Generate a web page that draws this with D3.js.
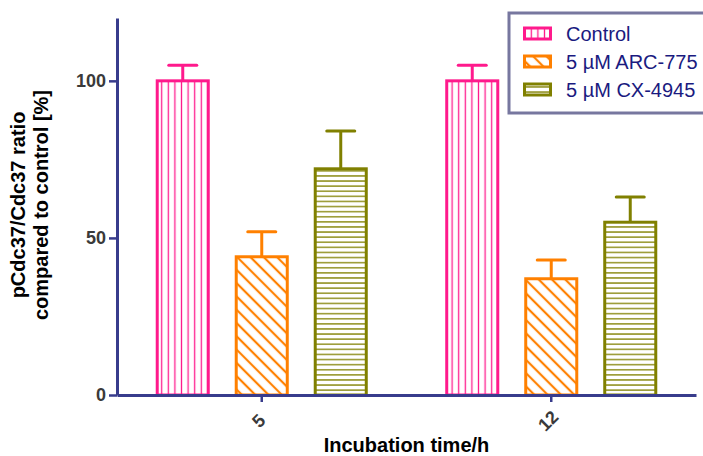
<!DOCTYPE html>
<html>
<head>
<meta charset="utf-8">
<script src="https://cdn.jsdelivr.net/npm/d3@7"></script>
<style>
  body { margin: 0; background: #fff; }
  text { font-family: "Liberation Sans", Arial, sans-serif; }
</style>
</head>
<body>
<script>
// Data
const categories = ["5", "12"];
const series = ["Control", "5 \u00b5M ARC-775", "5 \u00b5M CX-4945"];
const controlValues = [100, 100];
const arcValues = [44, 37];
const cxValues = [72, 55];
const controlErrors = [5, 5];
const arcErrors = [8, 6];
const cxErrors = [12, 8];
const yTicks = [0, 50, 100];

const colors = ["#ff1a8c", "#ff8000", "#808000"];
const patternIds = ["pat-vert", "pat-diag", "pat-horiz"];

const width = 703;
const height = 456;
const margin = {top: 18, right: 7, bottom: 61, left: 117};

const svg = d3.select("body").append("svg")
    .attr("width", width)
    .attr("height", height);

// Hatch patterns for the three series
const defs = svg.append("defs");

const pv = defs.append("pattern")
    .attr("id", "pat-vert")
    .attr("patternUnits", "userSpaceOnUse")
    .attr("width", 6.6).attr("height", 10);
pv.append("line")
    .attr("x1", 3.3).attr("x2", 3.3).attr("y1", 0).attr("y2", 10)
    .attr("stroke", colors[0]).attr("stroke-width", 1.3);

const pd = defs.append("pattern")
    .attr("id", "pat-diag")
    .attr("patternUnits", "userSpaceOnUse")
    .attr("width", 10).attr("height", 9.4)
    .attr("patternTransform", "rotate(45)");
pd.append("line")
    .attr("x1", 0).attr("x2", 10).attr("y1", 4.7).attr("y2", 4.7)
    .attr("stroke", colors[1]).attr("stroke-width", 2.2);

const ph = defs.append("pattern")
    .attr("id", "pat-horiz")
    .attr("patternUnits", "userSpaceOnUse")
    .attr("width", 10).attr("height", 5.1);
ph.append("line")
    .attr("x1", 0).attr("x2", 10).attr("y1", 2.55).attr("y2", 2.55)
    .attr("stroke", colors[2]).attr("stroke-width", 1.3);

// Scales
const x0 = d3.scaleBand()
    .domain(categories)
    .range([margin.left, width - margin.right]);

const groupWidth = 237;
const x1 = d3.scaleBand()
    .domain(series)
    .range([(x0.bandwidth() - groupWidth) / 2, (x0.bandwidth() + groupWidth) / 2])
    .paddingInner(0.354)
    .paddingOuter(0.177);

const y = d3.scaleLinear()
    .domain([0, 120])
    .range([height - margin.bottom, margin.top]);

// Build rows from the arrays
const valueSets = [controlValues, arcValues, cxValues];
const errorSets = [controlErrors, arcErrors, cxErrors];
const rows = [];
categories.forEach((c, ci) => {
    series.forEach((s, si) => {
        rows.push({cat: c, ser: s, si: si, value: valueSets[si][ci], err: errorSets[si][ci]});
    });
});

// Error bars (drawn first so the bar outline sits over the stem base)
const eb = svg.append("g").selectAll("g")
    .data(rows)
    .join("g");

eb.append("line")
    .attr("x1", (d) => x0(d.cat) + x1(d.ser) + x1.bandwidth() / 2)
    .attr("x2", (d) => x0(d.cat) + x1(d.ser) + x1.bandwidth() / 2)
    .attr("y1", (d) => y(d.value))
    .attr("y2", (d) => y(d.value + d.err))
    .attr("stroke", (d) => colors[d.si])
    .attr("stroke-width", 3);

eb.append("line")
    .attr("x1", (d) => x0(d.cat) + x1(d.ser) + x1.bandwidth() / 2 - 14)
    .attr("x2", (d) => x0(d.cat) + x1(d.ser) + x1.bandwidth() / 2 + 14)
    .attr("y1", (d) => y(d.value + d.err))
    .attr("y2", (d) => y(d.value + d.err))
    .attr("stroke", (d) => colors[d.si])
    .attr("stroke-width", 3)
    .attr("stroke-linecap", "round");

// Bars
svg.append("g").selectAll("rect")
    .data(rows)
    .join("rect")
    .attr("x", (d) => x0(d.cat) + x1(d.ser))
    .attr("y", (d) => y(d.value))
    .attr("width", x1.bandwidth())
    .attr("height", (d) => y(0) - y(d.value))
    .attr("fill", (d) => "url(#" + patternIds[d.si] + ")")
    .attr("stroke", (d) => colors[d.si])
    .attr("stroke-width", 3);

// Axes
const axisColor = "#383c8c";

const yAxis = svg.append("g")
    .attr("transform", "translate(" + margin.left + ",0)")
    .call(d3.axisLeft(y).tickValues(yTicks).tickSize(8).tickSizeOuter(0).tickPadding(3));

const xAxis = svg.append("g")
    .attr("transform", "translate(0," + y(0) + ")")
    .call(d3.axisBottom(x0).tickSize(7).tickSizeOuter(0));

[yAxis, xAxis].forEach((a) => {
    a.select(".domain").attr("stroke", axisColor).attr("stroke-width", 3);
    a.selectAll(".tick line").attr("stroke", axisColor).attr("stroke-width", 2.5);
    a.selectAll("text")
        .attr("fill", "#3a3a3a")
        .style("font-size", "18px")
        .style("font-weight", "bold");
});

xAxis.selectAll(".tick text")
    .attr("y", 0)
    .attr("dy", 0)
    .attr("text-anchor", "middle")
    .attr("dominant-baseline", "central")
    .attr("transform", "translate(-3,26) rotate(-45)");

// Axis titles
svg.append("text")
    .attr("x", x0.range()[0] + (x0.range()[1] - x0.range()[0]) / 2)
    .attr("y", 452)
    .attr("text-anchor", "middle")
    .style("font-size", "20px")
    .style("font-weight", "bold")
    .text("Incubation time/h");

const yTitle = svg.append("text")
    .attr("transform", "translate(25,205) rotate(-90)")
    .attr("text-anchor", "middle")
    .style("font-size", "20px")
    .style("font-weight", "bold");
yTitle.append("tspan").attr("x", 0).attr("dy", 0).text("pCdc37/Cdc37 ratio");
yTitle.append("tspan").attr("x", 0).attr("dy", 23).text("compared to control [%]");

// Legend
const legend = svg.append("g");
legend.append("rect")
    .attr("x", 509).attr("y", 13)
    .attr("width", 196).attr("height", 100)
    .attr("fill", "#fff")
    .attr("stroke", "#77779f")
    .attr("stroke-width", 3);

const li = legend.selectAll("g.item")
    .data(series)
    .join("g")
    .attr("class", "item")
    .attr("transform", (d, i) => "translate(0," + (33.5 + i * 28) + ")");

li.append("rect")
    .attr("x", 524.5).attr("y", -5.5)
    .attr("width", 26).attr("height", 11)
    .attr("fill", (d, i) => "url(#" + patternIds[i] + ")")
    .attr("stroke", (d, i) => colors[i])
    .attr("stroke-width", 3);

li.append("text")
    .attr("x", 566)
    .attr("y", 7)
    .attr("fill", "#1a1a80")
    .style("font-size", "20px")
    .text((d) => d);
</script>
</body>
</html>
